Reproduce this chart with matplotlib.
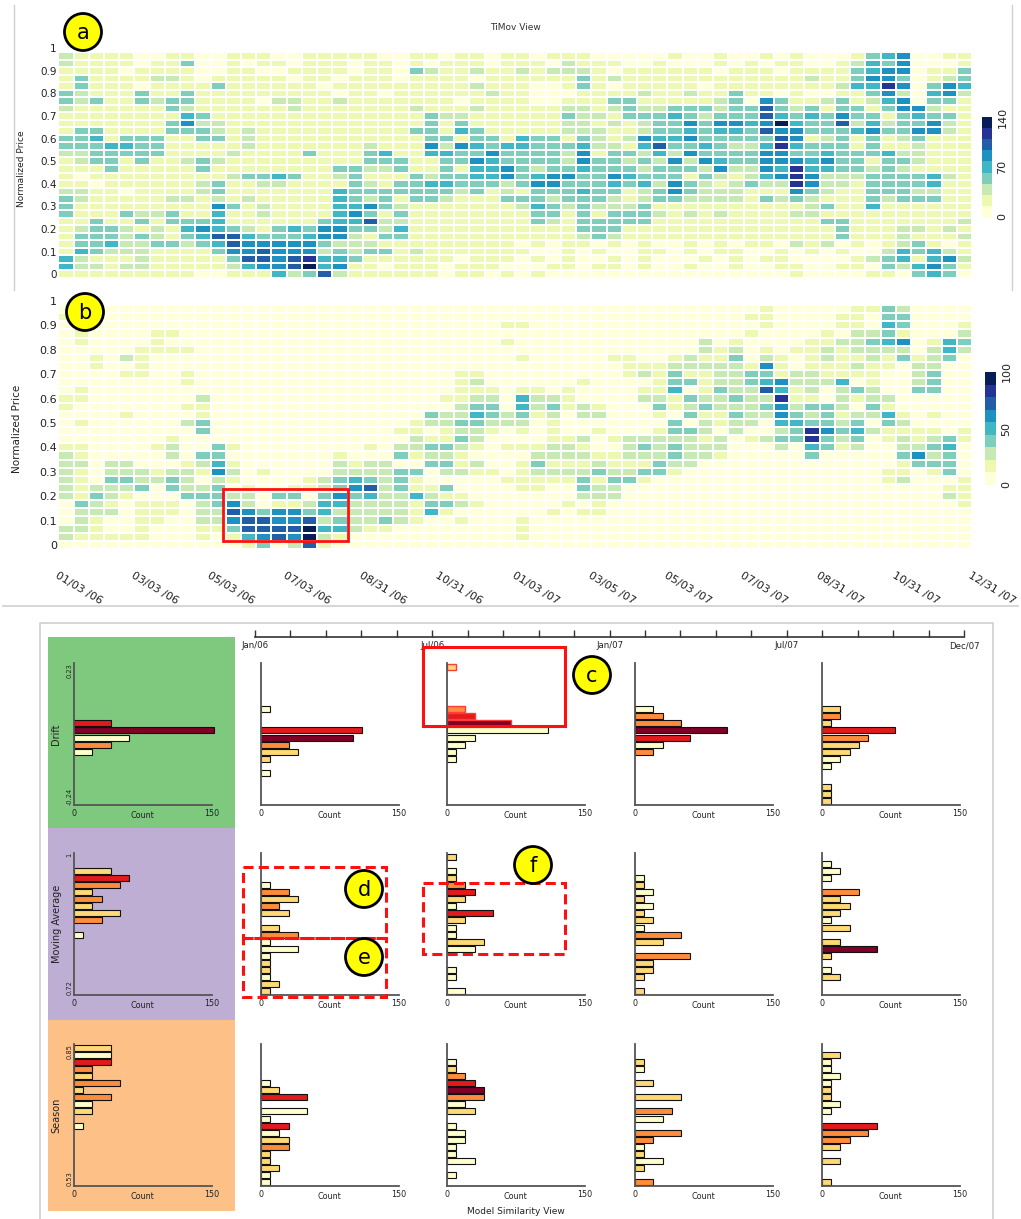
import matplotlib.pyplot as plt
import numpy as np
from matplotlib.colors import ListedColormap
from matplotlib.patches import Rectangle, Circle

W, H = 1021, 1219

# colour class (0-8) of every cell, top row (price 0.97) first, 60 time steps
timov_rows = [
    "2111100110" "0111001111" "1001101101" "1011100000" "1001001010" "0013450011",
    "2111101130" "0101101110" "1101011101" "1102111001" "0001010110" "0124350001",
    "1111011110" "0110011110" "1103211211" "2122210111" "1110111011" "1134550113",
    "1311112210" "1111101101" "1101111011" "1111312111" "1111111112" "1135530123",
    "1311101111" "3111111011" "1111111211" "1001310111" "1101111111" "1244750354",
    "3211131131" "1111111101" "1011111121" "1000111121" "1211311010" "0113520452",
    "3231132331" "1110221121" "1111110111" "1001113311" "1112305311" "2312450331",
    "2111111321" "1111121111" "1112111211" "1112212322" "3332336323" "1331355211",
    "1111111143" "1111111111" "1111322111" "1113221333" "4323336434" "3533134331",
    "1111111352" "2111111111" "1111313111" "1112212123" "3535545843" "3624233521",
    "1331111333" "2121111111" "1113314311" "1112221123" "3434436553" "3345335521",
    "3341333113" "3121111111" "1111331331" "4331321254" "4533333651" "2313123111",
    "3334433111" "1121111111" "2111525434" "4333422146" "3343224743" "3313112111",
    "2233333111" "1211113111" "3411443353" "3332513324" "2533335533" "4333422111",
    "1233131123" "2111111111" "3331133543" "3332533232" "5254335554" "5331332111",
    "1113111113" "1111111133" "2231131445" "3233433323" "3325225474" "4332321111",
    "1011111111" "1233431123" "1113233445" "3455335433" "3132124575" "2223333421",
    "1101111112" "3112211113" "2133443332" "3553334342" "5321232275" "2213333411",
    "2211011112" "3111111143" "3333332312" "1333433123" "5322211153" "2113332211",
    "3211111221" "2121111143" "2313321113" "3323332123" "3222213232" "1113233311",
    "3111111111" "5312111144" "5321111111" "2432322231" "1111111112" "3114111111",
    "3111322311" "4112111145" "3131111111" "1331313332" "1212111122" "1111111111",
    "1131131333" "4111111344" "6221111111" "1321333331" "1111111111" "3311111112",
    "1233212145" "4321343553" "3241111111" "1111333111" "1111111111" "1311122121",
    "1333232134" "6643334552" "1331111111" "1111232111" "1111111111" "1311121112",
    "1334223323" "4655555322" "2111111111" "0101101010" "0101011021" "2010123101",
    "1432221111" "3556555232" "3312111111" "1001010011" "0101100101" "0100243421",
    "4211121111" "1366567443" "1111110111" "0101001010" "0010101100" "0012341452",
    "4221221111" "1245568451" "1011101110" "0011011010" "0100100110" "0110324531",
    "1111111110" "0111423621" "1111101101" "0100000000" "0000000010" "0001103430",
]

model_rows = [
    "0000000000" "0000000000" "0000000000" "0000000000" "0000001000" "0011320000",
    "1000000000" "0000000000" "0000000000" "0000000000" "0000011000" "0110330000",
    "0000000000" "0000000000" "0000000001" "1000000000" "0000001000" "0110430001",
    "0100001100" "0000000000" "0000000000" "0000000000" "0000010000" "1022310002",
    "0100001000" "0000000000" "0000000001" "0000000000" "0020100001" "1223450143",
    "0000011110" "0000000000" "0000000000" "0000000000" "0021201011" "2122220242",
    "0010210000" "0000000000" "0000000000" "1000001100" "1211302101" "2112131230",
    "0010010000" "0000000000" "0000000000" "0000000111" "2222215101" "1121102200",
    "0000110010" "0000000000" "0000001100" "0000000121" "3112233122" "1111002300",
    "0000000010" "0000000000" "0000001200" "0000100001" "3312234522" "2401002300",
    "0100000000" "0000000000" "0000001110" "1101000011" "4013226412" "0232003300",
    "1100000002" "0000000000" "0000011220" "4221000022" "1322322711" "0212200000",
    "1000000011" "0000000000" "0000002330" "4231210003" "1232223523" "3203100000",
    "0000100001" "0000000000" "0000322432" "3120220001" "0311322532" "3122410100",
    "0100000023" "0000000000" "0001223322" "2010000000" "3021220443" "3230320000",
    "0000000003" "0000000000" "0011012210" "1010010001" "3320200237" "5342111101",
    "0000000100" "0000000000" "0002113200" "0011201222" "2212012337" "3230121231",
    "1100001200" "3100000000" "1022332101" "1122100232" "3222000204" "3120022340",
    "2100000203" "3000000010" "0031221000" "0222211222" "3221000003" "0000035230",
    "2202200012" "4100000021" "2200331200" "1311121113" "2200000000" "0000013330",
    "2102221221" "5201000022" "2233022110" "1222232233" "1000000000" "0000110130",
    "2103322320" "2100001234" "3231000001" "1111313310" "0000000000" "0000120001",
    "2122230322" "3010011235" "6231130000" "1100322000" "0000000000" "0000000011",
    "2132100033" "3220330353" "4224211000" "0000222000" "0000000000" "0000000021",
    "0321011102" "3520112442" "2221332100" "0001010000" "0000000000" "0000000001",
    "0222011102" "2653553422" "2221410000" "0010110000" "0000000000" "0000000000",
    "0210011002" "2566556232" "2321001000" "1000000000" "0000000000" "0000000000",
    "2210010001" "1366668442" "1100000000" "1000000000" "0000000000" "0000000000",
    "2111110001" "0145658210" "0000000000" "1000000000" "0000000000" "0000000000",
    "0000000000" "0013026100" "0000000000" "0000000000" "0000000000" "0000000000",
]

price_labels = ["0", "0.1", "0.2", "0.3", "0.4", "0.5", "0.6", "0.7", "0.8", "0.9", "1"]
date_labels = ["01/03 /06", "03/03 /06", "05/03 /06", "07/03 /06", "08/31 /06",
               "10/31 /06", "01/03 /07", "03/05 /07", "05/03 /07", "07/03 /07",
               "08/31 /07", "10/31 /07", "12/31 /07"]
timov_ticks = ["0", "70", "140"]
model_ticks = ["0", "50", "100"]

month_labels = ["Jan/06", "", "", "", "", "Jul/06", "", "", "", "", "Jan/07",
                "", "", "", "", "Jul/07", "", "", "", "", "Dec/07"]

model_names = ["Drift", "Moving Average", "Season"]
range_labels = [("0.23", "-0.24"), ("1", "0.72"), ("0.85", "0.53")]

# histogram counts per bin (20 bins, top bin first) and similarity class (0-4)
drift_counts = [
    [0, 0, 0, 0, 0, 0, 0, 0, 40, 152, 60, 40, 20, 0, 0, 0, 0, 0, 0, 0],
    [0, 0, 0, 0, 0, 0, 10, 0, 0, 110, 100, 30, 40, 10, 0, 10, 0, 0, 0, 0],
    [10, 0, 0, 0, 0, 0, 20, 30, 70, 110, 30, 20, 10, 10, 0, 0, 0, 0, 0, 0],
    [0, 0, 0, 0, 0, 0, 20, 30, 50, 100, 60, 30, 20, 0, 0, 0, 0, 0, 0, 0],
    [0, 0, 0, 0, 0, 0, 20, 20, 10, 80, 50, 40, 30, 20, 10, 0, 0, 10, 10, 10],
]
drift_levels = ["00000000340200000000", "00000000034211000000", "10000023400000000000",
                "00000002243020000000", "00000012132110000111"]

mavg_counts = [
    [0, 0, 40, 60, 50, 20, 30, 20, 50, 30, 0, 10, 0, 0, 0, 0, 0, 0, 0, 0],
    [0, 0, 0, 0, 10, 30, 40, 20, 30, 0, 20, 40, 10, 40, 10, 10, 10, 10, 20, 10],
    [10, 0, 10, 10, 20, 30, 20, 10, 50, 20, 10, 10, 40, 30, 0, 0, 10, 10, 0, 20],
    [0, 0, 0, 10, 10, 20, 10, 20, 10, 20, 10, 50, 30, 0, 60, 20, 20, 10, 0, 10],
    [0, 10, 20, 10, 0, 40, 20, 30, 20, 10, 30, 0, 20, 60, 10, 0, 10, 20, 0, 0],
]
mavg_levels = ["00132121120000000000", "00000212101200011011", "10012310310010000000",
               "00001010110210211101", "00000211101014100100"]

season_counts = [
    [40, 40, 40, 20, 20, 50, 10, 40, 20, 20, 0, 10, 0, 0, 0, 0, 0, 0, 0, 0],
    [0, 0, 0, 0, 0, 10, 20, 50, 0, 50, 10, 30, 20, 30, 30, 10, 10, 20, 10, 10],
    [0, 0, 10, 10, 20, 30, 40, 40, 20, 30, 0, 10, 20, 20, 10, 10, 30, 0, 10, 0],
    [0, 0, 10, 10, 0, 20, 0, 50, 0, 40, 30, 0, 50, 20, 10, 10, 30, 10, 0, 20],
    [0, 20, 10, 10, 20, 10, 10, 10, 20, 10, 0, 60, 50, 30, 20, 0, 20, 0, 0, 10],
]
season_levels = ["10321212010000000000", "00000013000301211100", "00012342010000000000",
                 "00100101020022010102", "01000011000322101001"]

# bins brushed in the Jul/06 drift histogram
brushed_bins = [0, 6, 7, 8]

heat_colors = ['#ffffd9', '#edf8b1', '#c7e9b4', '#7fcdbb', '#41b6c4',
               '#1d91c0', '#225ea8', '#253494', '#081d58']
bar_colors = ['#ffffcc', '#fed976', '#fd8d3c', '#e31a1c', '#800026']
panel_colors = ['#7fc97f', '#beaed4', '#fdc086']

plt.rcParams['font.family'] = 'DejaVu Sans'
fig = plt.figure(figsize=(W / 100, H / 100), dpi=100)


def px_axes(x0, y0, x1, y1, **kw):
    return fig.add_axes([x0 / W, 1 - y1 / H, (x1 - x0) / W, (y1 - y0) / H], **kw)


bg = px_axes(0, 0, W, H, zorder=-5)
bg.set_xlim(0, W)
bg.set_ylim(H, 0)
bg.axis('off')

over = px_axes(0, 0, W, H, zorder=20)
over.set_xlim(0, W)
over.set_ylim(H, 0)
over.axis('off')

cmap = ListedColormap(heat_colors)


def heatmap(rows, x0, x1, top, bottom, fs_tick, fs_label, label_x, label_y):
    grid = np.array([[int(ch) for ch in r] for r in rows[::-1]])
    nrow, ncol = grid.shape
    row_h = (bottom - top) / nrow
    ax = px_axes(x0, top - row_h, x1, bottom)
    ax.pcolormesh(np.arange(ncol + 1), np.arange(nrow + 1), grid, cmap=cmap,
                  vmin=-0.5, vmax=8.5, edgecolors='white', linewidth=1.1)
    ax.set_xlim(0, ncol)
    ax.set_ylim(0, nrow + 1)
    for s in ax.spines.values():
        s.set_visible(False)
    ax.set_yticks(np.arange(0, nrow + 1, 3) + 0.5)
    ax.set_yticklabels(price_labels, fontsize=fs_tick, color='#222222')
    ax.tick_params(length=0, pad=1)
    ax.set_ylabel('Normalized Price', fontsize=fs_label, color='#222222')
    ax.yaxis.set_label_coords(label_x, label_y)
    return ax


ax_a = heatmap(timov_rows, 58.3, 972, 52, 278, 7.5, 6.5, -0.035, 0.47)
ax_a.set_xticks([])

ax_b = heatmap(model_rows, 58.3, 972, 305, 549, 8, 7.5, -0.040, 0.475)
ax_b.set_xticks(np.arange(0, 61, 5))
ax_b.set_xticklabels(date_labels, rotation=-31, ha='left', va='top',
                     rotation_mode='anchor', fontsize=8, color='#222222')
ax_b.tick_params(axis='x', pad=15)


def colorbar(x0, x1, y0, y1, labels):
    cax = px_axes(x0, y0, x1, y1)
    cax.pcolormesh([0, 1], np.arange(10), np.arange(9).reshape(9, 1), cmap=cmap,
                   vmin=-0.5, vmax=8.5)
    cax.set_xticks([])
    cax.set_yticks([0, 4.5, 9])
    cax.set_yticklabels(labels, rotation=90, va='center', fontsize=8, color='#222222')
    cax.yaxis.tick_right()
    cax.tick_params(length=0, pad=4)
    for s in cax.spines.values():
        s.set_visible(False)


colorbar(982, 992, 117, 217, timov_ticks)
colorbar(985, 996, 372, 485, model_ticks)

over.text(515, 28, 'TiMov View', fontsize=6.5, ha='center', va='center', color='#333333')

# frame lines of the screenshot
grey = '#cfcfcf'
bg.plot([14, 14], [5, 290], color=grey, lw=1)
bg.plot([1012, 1012], [5, 290], color=grey, lw=1)
bg.plot([3, 1018], [606, 606], color=grey, lw=1.2)
bg.plot([40, 40, 993, 993], [1219, 623, 623, 1219], color=grey, lw=1.2)

# coloured model panels
row_tops = [663, 853, 1044]
panel_edges = [637, 828, 1020, 1211]
for r in range(3):
    bg.add_patch(Rectangle((48, panel_edges[r]), 187, panel_edges[r + 1] - panel_edges[r],
                           facecolor=panel_colors[r], edgecolor='none'))

# time axis over the model similarity grid
tax = px_axes(255, 630, 964, 637)
tax.set_xlim(0, 20)
tax.set_ylim(0, 1)
tax.patch.set_visible(False)
for k in ['top', 'left', 'right']:
    tax.spines[k].set_visible(False)
tax.spines['bottom'].set_color('#333333')
tax.spines['bottom'].set_linewidth(1.2)
tax.set_yticks([])
tax.set_xticks(np.arange(21))
tax.set_xticklabels(month_labels, fontsize=6.2, color='#222222')
tax.tick_params(axis='x', direction='in', length=5, width=1, color='#333333', pad=3)

col_x = [74, 261, 447, 635, 822]
hist_w, hist_h = 137.7, 142
all_counts = [drift_counts, mavg_counts, season_counts]
all_levels = [drift_levels, mavg_levels, season_levels]

for r in range(3):
    for c in range(5):
        ax = px_axes(col_x[c], row_tops[r], col_x[c] + hist_w, row_tops[r] + hist_h, zorder=2)
        ax.patch.set_visible(False)
        counts = all_counts[r][c]
        levels = all_levels[r][c]
        for b in range(len(counts)):
            if counts[b] == 0:
                continue
            brushed = (r == 0 and c == 2 and b in brushed_bins)
            ax.barh(b, counts[b], height=0.85, color=bar_colors[int(levels[b])],
                    edgecolor='#ff3b3b' if brushed else '#111111',
                    linewidth=1.0 if brushed else 0.8, clip_on=False)
        ax.set_xlim(0, 150)
        ax.set_ylim(19.5, -0.5)
        ax.spines['top'].set_visible(False)
        ax.spines['right'].set_visible(False)
        for k in ['left', 'bottom']:
            ax.spines[k].set_color('#555555')
            ax.spines[k].set_linewidth(1.3)
        ax.set_yticks([])
        ax.set_xticks([0, 150])
        ax.set_xticklabels(['0', '150'], fontsize=5.8, color='#222222')
        ax.tick_params(axis='x', length=0, pad=3)
        ax.set_xlabel('Count', fontsize=5.8, color='#222222')
        ax.xaxis.set_label_coords(0.5, -0.045)
        if c == 0:
            ax.set_ylabel(model_names[r], fontsize=7, labelpad=9, color='#222222')
            hi, lo = range_labels[r]
            ax.text(-0.035, 1, hi, transform=ax.transAxes, rotation=90, ha='right',
                    va='center', rotation_mode='anchor', fontsize=4.8, color='#222222')
            ax.text(-0.035, 0, lo, transform=ax.transAxes, rotation=90, ha='left',
                    va='center', rotation_mode='anchor', fontsize=4.8, color='#222222')

over.text(516, 1212, 'Model Similarity View', fontsize=6.5, ha='center', va='center',
          color='#222222')

# annotations
over.add_patch(Rectangle((223, 489), 125, 52, fill=False, edgecolor='#ff1010', lw=2))
over.add_patch(Rectangle((423, 647), 142, 79, fill=False, edgecolor='#ff1010', lw=2.2))
dash = (0, (3.3, 1.7))
for (x, y, w, h) in [(243, 867, 143, 71), (243, 938, 143, 59), (423, 883, 142, 71)]:
    over.add_patch(Rectangle((x, y), w, h, fill=False, edgecolor='#ff1010', lw=2.2,
                             linestyle=dash))

for letter, cx, cy in [('a', 83, 32), ('b', 85, 312), ('c', 592, 675),
                       ('d', 364, 889), ('e', 364, 957), ('f', 533, 865)]:
    over.add_patch(Circle((cx, cy), 18.5, facecolor='#ffff00', edgecolor='black', lw=2))
    over.text(cx, cy + 1, letter, fontsize=15, ha='center', va='center', color='black')

fig.savefig('out.png', dpi=100)
